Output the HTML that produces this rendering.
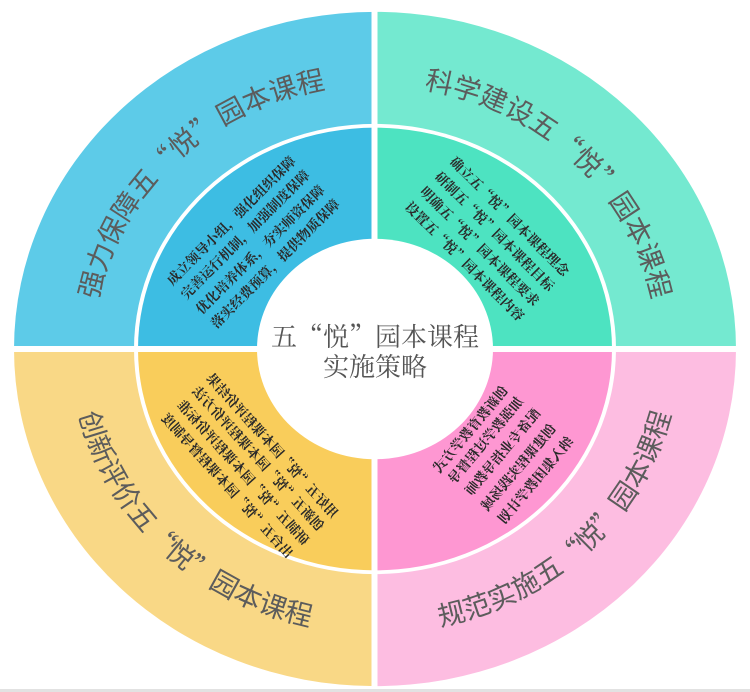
<!DOCTYPE html>
<html><head><meta charset="utf-8"><style>
html,body{margin:0;padding:0;background:#fff;width:750px;height:692px;overflow:hidden}
svg{display:block}
.o{font-family:"Noto Sans CJK SC","Liberation Sans",sans-serif;font-size:27.5px;fill:#5c5c5c}
.i{font-family:"Noto Serif CJK SC","Liberation Serif",serif;font-size:13.5px;font-weight:bold;fill:#2a2a2a}
.c{font-family:"Noto Serif CJK SC","Liberation Serif",serif;font-size:26px;fill:#555}
</style></head><body>
<svg width="750" height="692" viewBox="0 0 750 692" xmlns="http://www.w3.org/2000/svg">
<defs>
<path id="pTL" d="M93,349 A282 264 0 0 1 375,85"/>
<path id="pTR" d="M375,85 A282 264 0 0 1 657,349"/>
<path id="pBL" d="M71,349 A304 284 0 0 0 375,633"/>
<path id="pBR" d="M375,633 A304 284 0 0 0 679,349"/>
</defs>
<g transform="translate(375,349) scale(1,0.934)">
<path d="M0,0 L-361,0 A361 361 0 0 1 0,-361 Z" fill="#5dcbe8"/>
<path d="M0,0 L0,-361 A361 361 0 0 1 361,0 Z" fill="#74e9d0"/>
<path d="M0,0 L-361,0 A361 361 0 0 0 0,361 Z" fill="#f9d886"/>
<path d="M0,0 L0,361 A361 361 0 0 0 361,0 Z" fill="#fdbde1"/>
<circle r="241" fill="#fff"/>
<path d="M0,0 L-237,0 A237 237 0 0 1 0,-237 Z" fill="#3dbde3"/>
<path d="M0,0 L0,-237 A237 237 0 0 1 237,0 Z" fill="#4de3c1"/>
<path d="M0,0 L-237,0 A237 237 0 0 0 0,237 Z" fill="#f9cd5b"/>
<path d="M0,0 L0,237 A237 237 0 0 0 237,0 Z" fill="#fe97d2"/>
<circle r="118" fill="#fff"/>
</g>
<rect x="371.5" y="0" width="6" height="692" fill="#fff"/>
<rect x="0" y="346" width="750" height="6" fill="#fff"/>
<rect x="0" y="689" width="750" height="3" fill="#e2e2e2"/>

<text class="o"><textPath href="#pTL" startOffset="50%" text-anchor="middle">强力保障五“悦”园本课程</textPath></text>
<text class="o"><textPath href="#pTR" startOffset="50%" text-anchor="middle">科学建设五“悦”园本课程</textPath></text>
<text class="o"><textPath href="#pBL" startOffset="50%" text-anchor="middle">创新评价五“悦”园本课程</textPath></text>
<text class="o"><textPath href="#pBR" startOffset="50%" text-anchor="middle">规范实施五“悦”园本课程</textPath></text>

<g class="i" dominant-baseline="central">
<text transform="translate(173,277) rotate(-45)" x="-6.75">成立领导小组，强化组织保障</text>
<text transform="translate(187,291) rotate(-45)" x="-6.75">完善运行机制，加强制度保障</text>
<text transform="translate(202,306) rotate(-45)" x="-6.75">优化培养体系，夯实师资保障</text>
<text transform="translate(217,320) rotate(-45)" x="-6.75">落实经费预算，提供物质保障</text>

<text transform="translate(458,163) rotate(45)" x="-6.75">确立五“悦”园本课程理念</text>
<text transform="translate(443,178) rotate(45)" x="-6.75">研制五“悦”园本课程目标</text>
<text transform="translate(428,193) rotate(45)" x="-6.75">明确五“悦”园本课程要求</text>
<text transform="translate(413,208) rotate(45)" x="-6.75">设置五“悦”园本课程内容</text>

<text transform="translate(332,510) scale(-1,1) rotate(-48)" x="-6.75">用好五“悦”园本课程评价结果</text>
<text transform="translate(318,523) scale(-1,1) rotate(-48)" x="-6.75">创新五“悦”园本课程评价方法</text>
<text transform="translate(303,537) scale(-1,1) rotate(-48)" x="-6.75">研制五“悦”园本课程评价标准</text>
<text transform="translate(287,550) scale(-1,1) rotate(-48)" x="-6.75">出台五“悦”园本课程督导制度</text>

<text transform="translate(500,392) scale(-1,1) rotate(50)" x="-6.75">创新教育教学方式</text>
<text transform="translate(515,403) scale(-1,1) rotate(50)" x="-6.75">加强教学过程督导</text>
<text transform="translate(532,415) scale(-1,1) rotate(50)" x="-6.75">配备专业指导教师</text>
<text transform="translate(548,430) scale(-1,1) rotate(50)" x="-6.75">创建课程实践场域</text>
<text transform="translate(565,443) scale(-1,1) rotate(50)" x="-6.75">纳入集团教学计划</text>
</g>

<text class="c" x="375" y="346" text-anchor="middle">五“悦”园本课程</text>
<text class="c" x="375" y="376" text-anchor="middle">实施策略</text>
</svg>
</body></html>
